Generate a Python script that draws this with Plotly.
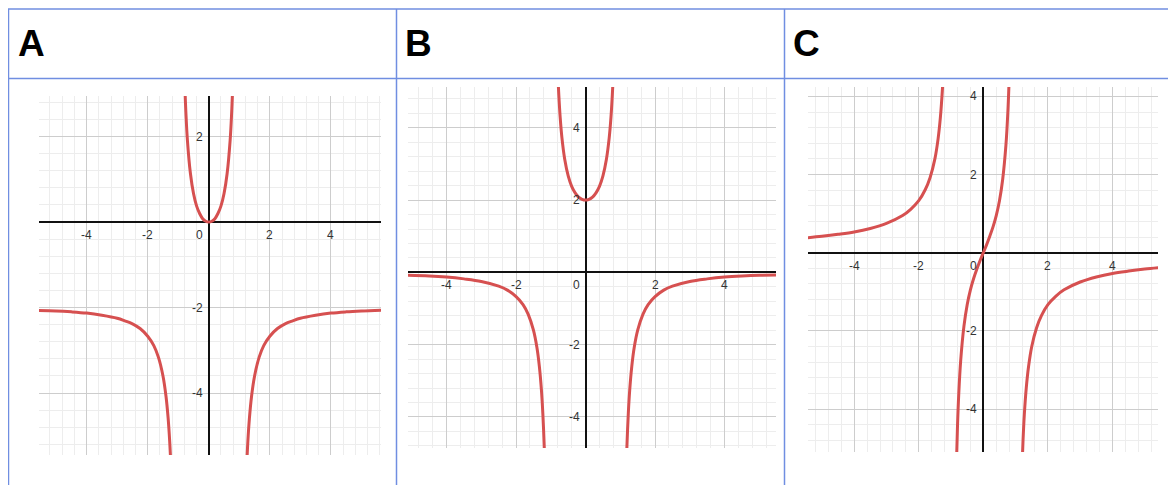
import plotly.graph_objects as go

# the page body has an 8px margin, so the figure starts at page pixel 8
OFF = 8
W, H = 1176 - OFF, 485 - OFF

# Panel A (three branches)
a_left_x = [-5.6, -5.0, -4.5, -4.0, -3.5, -3.0, -2.75, -2.5, -2.25, -2.0, -1.8, -1.65, -1.5, -1.4, -1.33, -1.28, -1.25]
a_left_y = [-2.07, -2.08, -2.10, -2.13, -2.18, -2.25, -2.31, -2.38, -2.49, -2.67, -2.89, -3.16, -3.60, -4.08, -4.60, -5.13, -5.56]
a_mid_x = [-0.78, -0.75, -0.7, -0.6, -0.5, -0.4, -0.3, -0.2, -0.1, 0.0, 0.1, 0.2, 0.3, 0.4, 0.5, 0.6, 0.7, 0.75, 0.78]
a_mid_y = [3.11, 2.57, 1.92, 1.13, 0.67, 0.38, 0.20, 0.08, 0.02, 0.0, 0.02, 0.08, 0.20, 0.38, 0.67, 1.13, 1.92, 2.57, 3.11]
a_right_x = [1.25, 1.28, 1.33, 1.4, 1.5, 1.65, 1.8, 2.0, 2.25, 2.5, 2.75, 3.0, 3.5, 4.0, 4.5, 5.0, 5.7]
a_right_y = [-5.56, -5.13, -4.60, -4.08, -3.60, -3.16, -2.89, -2.67, -2.49, -2.38, -2.31, -2.25, -2.18, -2.13, -2.10, -2.08, -2.06]

# Panel B
b_left_x = [-5.2, -4.5, -4.0, -3.5, -3.0, -2.5, -2.25, -2.0, -1.8, -1.65, -1.5, -1.4, -1.33, -1.27, -1.23, -1.19, -1.17]
b_left_y = [-0.08, -0.10, -0.13, -0.18, -0.25, -0.38, -0.49, -0.67, -0.89, -1.16, -1.60, -2.08, -2.60, -3.26, -3.90, -4.81, -5.42]
b_mid_x = [-0.8, -0.77, -0.73, -0.68, -0.6, -0.5, -0.4, -0.3, -0.2, -0.1, 0.0, 0.1, 0.2, 0.3, 0.4, 0.5, 0.6, 0.68, 0.73, 0.77, 0.8]
b_mid_y = [5.56, 4.91, 4.28, 3.72, 3.13, 2.67, 2.38, 2.20, 2.08, 2.02, 2.0, 2.02, 2.08, 2.20, 2.38, 2.67, 3.13, 3.72, 4.28, 4.91, 5.56]
b_right_x = [1.17, 1.19, 1.23, 1.27, 1.33, 1.4, 1.5, 1.65, 1.8, 2.0, 2.25, 2.5, 3.0, 3.5, 4.0, 4.5, 5.0, 5.6]
b_right_y = [-5.42, -4.81, -3.90, -3.26, -2.60, -2.08, -1.60, -1.16, -0.89, -0.67, -0.49, -0.38, -0.25, -0.18, -0.13, -0.10, -0.08, -0.07]

# Panel C
c_left_x = [-5.5, -5.0, -4.5, -4.0, -3.5, -3.0, -2.5, -2.25, -2.0, -1.8, -1.65, -1.5, -1.4, -1.33, -1.27, -1.24]
c_left_y = [0.38, 0.42, 0.47, 0.53, 0.62, 0.75, 0.95, 1.11, 1.33, 1.61, 1.92, 2.40, 2.92, 3.46, 4.14, 4.61]
c_mid_x = [-0.83, -0.8, -0.76, -0.7, -0.6, -0.5, -0.4, -0.3, -0.2, -0.1, 0.0, 0.1, 0.2, 0.3, 0.4, 0.5, 0.6, 0.7, 0.76, 0.8]
c_mid_y = [-5.34, -4.44, -3.60, -2.75, -1.88, -1.33, -0.95, -0.66, -0.42, -0.20, 0.0, 0.20, 0.42, 0.66, 0.95, 1.33, 1.88, 2.75, 3.60, 4.44]
c_right_x = [1.2, 1.23, 1.27, 1.33, 1.4, 1.5, 1.65, 1.8, 2.0, 2.25, 2.5, 3.0, 3.5, 4.0, 4.5, 5.0, 5.5]
c_right_y = [-5.46, -4.80, -4.14, -3.46, -2.92, -2.40, -1.92, -1.61, -1.33, -1.11, -0.95, -0.75, -0.62, -0.53, -0.47, -0.42, -0.38]

panel_labels = ["A", "B", "C"]
x_tick_vals = [-4, -2, 2, 4]
y_tick_vals = [[2, -2, -4], [4, 2, -2, -4], [4, 2, -2, -4]]
x_ranges = [[-5.56, 5.64], [-5.11, 5.48], [-5.43, 5.41]]
y_ranges = [[-5.45, 2.95], [-4.86, 5.13], [-5.1, 4.24]]

branches = [
    [(a_left_x, a_left_y), (a_mid_x, a_mid_y), (a_right_x, a_right_y)],
    [(b_left_x, b_left_y), (b_mid_x, b_mid_y), (b_right_x, b_right_y)],
    [(c_left_x, c_left_y), (c_mid_x, c_mid_y), (c_right_x, c_right_y)],
]

# page-pixel boxes of the three graph images (left, right, top, bottom)
boxes = [(39, 381, 96, 455), (408, 776, 87, 448), (808, 1158, 87, 452)]
letter_left = [16, 403, 791]

CURVE = "rgb(214,80,80)"
BORDER = "rgb(112,142,225)"


def fx(p):
    return (p - OFF) / W


def fy(p):
    return 1 - (p - OFF) / H


fig = go.Figure()
annotations = []

for i in range(3):
    s = "" if i == 0 else str(i + 1)
    xa, ya = "x" + s, "y" + s
    for bx, by in branches[i]:
        fig.add_trace(go.Scatter(
            x=bx, y=by, mode="lines", xaxis=xa, yaxis=ya,
            line=dict(color=CURVE, width=3, shape="spline"),
            hoverinfo="skip", showlegend=False,
        ))
    l, r, t, b = boxes[i]
    common = dict(
        dtick=2, tick0=0, showgrid=True, gridcolor="#cdcdcd", gridwidth=1,
        minor=dict(dtick=0.4, tick0=0, showgrid=True, gridcolor="#ededed", gridwidth=1),
        zeroline=True, zerolinecolor="#111111", zerolinewidth=1.5,
        showticklabels=False, ticks="", showline=False, fixedrange=True,
    )
    fig.update_layout(**{
        "xaxis" + s: dict(domain=[fx(l), fx(r)], range=x_ranges[i], anchor=ya, **common),
        "yaxis" + s: dict(domain=[fy(b), fy(t)], range=y_ranges[i], anchor=xa, **common),
    })

    # Desmos-style tick labels along the axes
    lab_font = dict(family="Arial", size=12, color="#333333")
    for v in x_tick_vals:
        annotations.append(dict(x=v, y=0, xref=xa, yref=ya, text=str(v), showarrow=False,
                                xanchor="center", yanchor="middle", yshift=-13, font=lab_font))
    annotations.append(dict(x=0, y=0, xref=xa, yref=ya, text="0", showarrow=False,
                            xanchor="right", yanchor="middle", xshift=-4, yshift=-13, font=lab_font))
    for v in y_tick_vals[i]:
        annotations.append(dict(x=0, y=v, xref=xa, yref=ya, text=str(v), showarrow=False,
                                xanchor="right", yanchor="middle", xshift=-4, font=lab_font))

    # header letter
    annotations.append(dict(x=fx(letter_left[i]), y=fy(43.5), xref="paper", yref="paper",
                            text="<b>" + panel_labels[i] + "</b>", showarrow=False,
                            xanchor="left", yanchor="middle",
                            font=dict(family="Arial", size=37, color="#000000")))

# table borders
shapes = []
for x0, y0, x1, y1 in [
    (8, 9, 1173, 9), (8, 78.5, 1173, 78.5),
    (8.5, 9, 8.5, 485), (396.5, 9, 396.5, 485), (784.5, 9, 784.5, 485), (1172.5, 9, 1172.5, 485),
]:
    shapes.append(dict(type="line", xref="paper", yref="paper",
                       x0=fx(x0), y0=fy(y0), x1=fx(x1), y1=fy(y1),
                       line=dict(color=BORDER, width=1.5)))

fig.update_layout(
    width=W, height=H, margin=dict(l=0, r=0, t=0, b=0),
    paper_bgcolor="white", plot_bgcolor="white",
    annotations=annotations, shapes=shapes, showlegend=False,
)
fig.write_html("out.html")
